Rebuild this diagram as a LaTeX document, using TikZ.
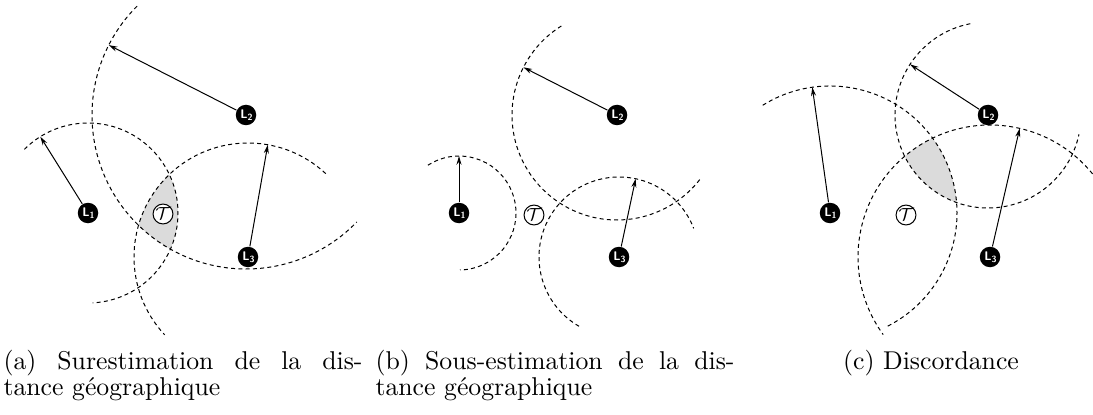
\documentclass[tikz,border=0pt]{standalone}
\usetikzlibrary{arrows.meta}
\begin{document}
\begin{tikzpicture}[x=0.4pt,y=0.4pt,
  rangearc/.style={dash pattern=on 1.6pt off 1.3pt, line width=0.4pt},
  lnode/.style={circle, fill=black, inner sep=0pt, minimum size=8.2pt, text=white,
    font=\sffamily\bfseries\fontsize{5}{5}\selectfont},
  tnode/.style={circle, draw=black, fill=white, line width=0.4pt, inner sep=0pt,
    minimum size=7pt, font=\fontsize{7}{7}\selectfont},
  arrowline/.style={line width=0.4pt, -{Stealth[length=3.5pt,width=2pt]}},
  zone/.style={fill=black!14},
  captext/.style={anchor=base west, inner sep=0pt, font=\fontsize{10.3}{12}\selectfont}]
\useasboundingbox (0,0) rectangle (1093,414);
\newcommand\lab[1]{\kern0.3pt L\raisebox{-0.7pt}{\fontsize{3.6}{3.6}\selectfont #1}}
% ---------- panel (a)
\coordinate (c1a) at (88,201);
\coordinate (c2a) at (246,299);
\coordinate (c3a) at (248,157);
\begin{scope}
\clip (c1a) circle[radius=90];
\clip (c2a) circle[radius=154];
\fill[zone] (c3a) circle[radius=114];
\end{scope}
\draw[rangearc] (c1a) ++(135:90) arc[start angle=135, end angle=-87, radius=90];
\draw[rangearc] (c2a) ++(135:154) arc[start angle=135, end angle=316, radius=154];
\draw[rangearc] (c3a) ++(47:114) arc[start angle=47, end angle=223, radius=114];
\path (c1a) ++(122:90) coordinate (e1a);
\path (c2a) ++(153:154) coordinate (e2a);
\path (c3a) ++(80:114) coordinate (e3a);
\node[lnode] (L1a) at (c1a) {\lab{1}};
\node[lnode] (L2a) at (c2a) {\lab{2}};
\node[lnode] (L3a) at (c3a) {\lab{3}};
\node[tnode] (Ta) at (163,200) {$\mathcal{T}$};
\draw[arrowline] (L1a) -- (e1a);
\draw[arrowline] (L2a) -- (e2a);
\draw[arrowline] (L3a) -- (e3a);
% ---------- panel (b)
\coordinate (c1b) at (459,201);
\coordinate (c2b) at (617,299);
\coordinate (c3b) at (619,157);
\draw[rangearc] (c1b) ++(123:57) arc[start angle=123, end angle=-89, radius=57];
\draw[rangearc] (c2b) ++(122:105) arc[start angle=122, end angle=323, radius=105];
\draw[rangearc] (c3b) ++(240:80) arc[start angle=240, end angle=21, radius=80];
\path (c1b) ++(90:57) coordinate (e1b);
\path (c2b) ++(153:105) coordinate (e2b);
\path (c3b) ++(78:80) coordinate (e3b);
\node[lnode] (L1b) at (c1b) {\lab{1}};
\node[lnode] (L2b) at (c2b) {\lab{2}};
\node[lnode] (L3b) at (c3b) {\lab{3}};
\node[tnode] (Tb) at (534,199) {$\mathcal{T}$};
\draw[arrowline] (L1b) -- (e1b);
\draw[arrowline] (L2b) -- (e2b);
\draw[arrowline] (L3b) -- (e3b);
% ---------- panel (c)
\coordinate (c1c) at (830,201);
\coordinate (c2c) at (988,299);
\coordinate (c3c) at (990,157);
\begin{scope}
\clip (c1c) circle[radius=127];
\clip (c2c) circle[radius=93];
\fill[zone] (c3c) circle[radius=132];
\end{scope}
\draw[rangearc] (c1c) ++(122:127) arc[start angle=122, end angle=-64, radius=127];
\draw[rangearc] (c2c) ++(101:93) arc[start angle=101, end angle=348, radius=93];
\draw[rangearc] (c3c) ++(39:132) arc[start angle=39, end angle=216, radius=132];
\path (c1c) ++(98:127) coordinate (e1c);
\path (c2c) ++(147:93) coordinate (e2c);
\path (c3c) ++(77:132) coordinate (e3c);
\node[lnode] (L1c) at (c1c) {\lab{1}};
\node[lnode] (L2c) at (c2c) {\lab{2}};
\node[lnode] (L3c) at (c3c) {\lab{3}};
\node[tnode] (Tc) at (906,199) {$\mathcal{T}$};
\draw[arrowline] (L1c) -- (e1c);
\draw[arrowline] (L2c) -- (e2c);
\draw[arrowline] (L3c) -- (e3c);
% ---------- captions
\node[captext] (capa1) at (3,45) {\makebox[143.6pt][s]{(a) Surestimation de la dis-}};
\node[captext] (capa2) at (3,19) {tance géographique};
\node[captext] (capb1) at (375,45) {\makebox[143.6pt][s]{(b) Sous-estimation de la dis-}};
\node[captext] (capb2) at (375,19) {tance géographique};
\node[captext, anchor=base] (capc) at (931,45) {(c) Discordance};
\end{tikzpicture}
\end{document}
